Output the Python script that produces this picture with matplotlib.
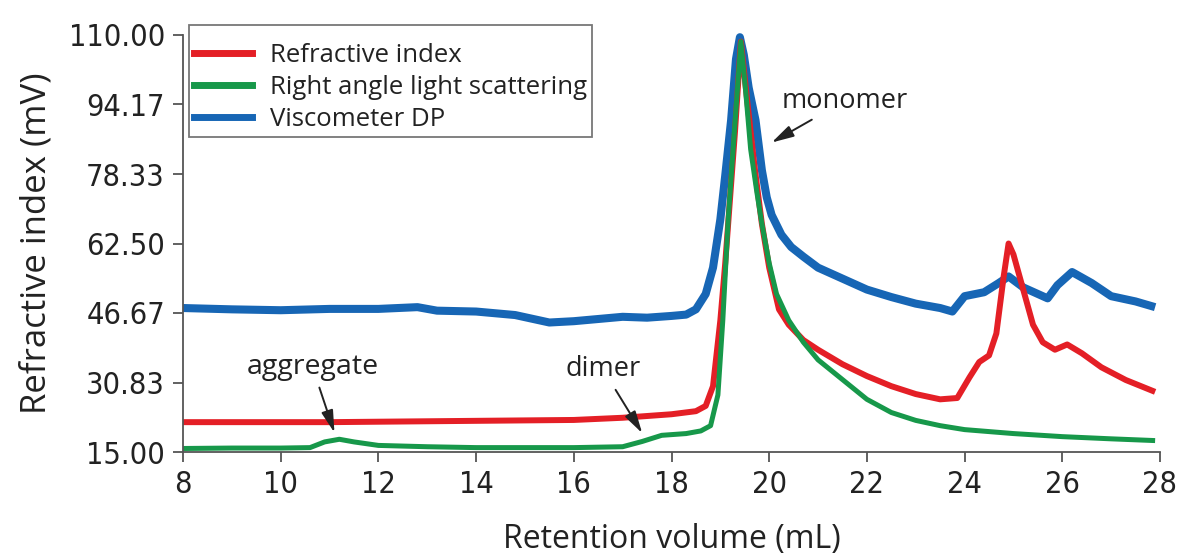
import numpy as np
import matplotlib.pyplot as plt
from matplotlib.lines import Line2D

# Retention volume (mL) / signal (mV)
ri_x = [8.0, 9.0, 10.0, 11.0, 12.0, 13.0, 14.0, 15.0, 16.0, 17.0, 17.5, 18.0, 18.5, 18.7,
        18.85, 19.0, 19.1, 19.2, 19.3, 19.42, 19.55, 19.7, 19.85, 20.0, 20.2, 20.4, 20.7,
        21.0, 21.5, 22.0, 22.5, 23.0, 23.5, 23.85, 24.1, 24.3, 24.5, 24.65, 24.8, 24.9,
        25.0, 25.2, 25.4, 25.6, 25.85, 26.1, 26.4, 26.8, 27.3, 27.9]
ri_y = [21.8, 21.8, 21.8, 21.8, 21.9, 22.0, 22.1, 22.2, 22.3, 22.8, 23.2, 23.6, 24.3, 25.5,
        30.0, 45.0, 58.0, 73.0, 88.0, 108.5, 95.0, 80.0, 67.0, 57.0, 47.5, 44.0, 40.5,
        38.3, 35.0, 32.3, 30.0, 28.2, 27.0, 27.3, 32.0, 35.5, 37.0, 42.0, 55.0, 62.5,
        60.0, 52.0, 44.0, 40.0, 38.3, 39.5, 37.5, 34.3, 31.4, 28.7]

ls_x = [8.0, 9.0, 10.0, 10.6, 10.9, 11.2, 11.5, 12.0, 13.0, 14.0, 15.0, 16.0, 17.0, 17.4,
        17.8, 18.3, 18.6, 18.8, 18.95, 19.05, 19.16, 19.3, 19.42, 19.52, 19.62, 19.75,
        19.85, 20.0, 20.15, 20.4, 20.7, 21.0, 21.5, 22.0, 22.5, 23.0, 23.5, 24.0, 25.0,
        26.0, 27.0, 27.9]
ls_y = [15.8, 15.9, 15.9, 16.0, 17.3, 17.9, 17.3, 16.5, 16.2, 16.0, 16.0, 16.0, 16.2, 17.4,
        18.8, 19.2, 19.8, 21.0, 28.0, 45.0, 68.0, 90.0, 108.5, 97.0, 84.0, 74.0,
        67.0, 58.0, 51.0, 45.0, 40.0, 36.0, 31.5, 27.0, 24.0, 22.2, 21.0, 20.1, 19.2,
        18.5, 18.0, 17.6]

dp_x = [8.0, 9.0, 10.0, 11.0, 12.0, 12.8, 13.2, 14.0, 14.8, 15.5, 16.0, 16.5, 17.0, 17.5,
        18.0, 18.3, 18.5, 18.7, 18.85, 19.0, 19.1, 19.22, 19.32, 19.4, 19.48, 19.58, 19.72,
        19.85, 19.95, 20.05, 20.25, 20.45, 20.7, 21.0, 21.5, 22.0, 22.5, 23.0, 23.5, 23.75,
        24.0, 24.4, 24.7, 24.9, 25.2, 25.5, 25.7, 25.9, 26.2, 26.6, 27.0, 27.5, 27.9]
dp_y = [47.8, 47.5, 47.3, 47.6, 47.6, 48.0, 47.2, 47.0, 46.2, 44.5, 44.8, 45.3, 45.8, 45.6,
        46.0, 46.3, 47.5, 51.0, 57.0, 68.0, 78.0, 90.6, 104.5, 109.5, 105.5, 98.0, 90.6,
        79.2, 73.0, 69.0, 64.5, 61.7, 59.5, 57.0, 54.5, 52.0, 50.3, 48.8, 47.8, 47.0,
        50.5, 51.4, 53.5, 55.0, 52.5, 51.0, 50.0, 53.0, 56.0, 53.5, 50.5, 49.3, 48.0]

series_names = ['Refractive index', 'Right angle light scattering', 'Viscometer DP']
colors = ['#e41f26', '#17984a', '#1766b5']

x_ticks = [8, 10, 12, 14, 16, 18, 20, 22, 24, 26, 28]
y_ticks = [15.00, 30.83, 46.67, 62.50, 78.33, 94.17, 110.00]

text_font = ['Open Sans', 'DejaVu Sans']
plt.rcParams['font.family'] = text_font
dark = '#222222'

fig = plt.figure(figsize=(11.83, 5.57), dpi=100)
ax = fig.add_axes([183/1183, 1-452/557, 977/1183, 417/557])

# viscometer under the other two
ax.plot(dp_x, dp_y, color=colors[2], lw=5.8, solid_capstyle='butt', clip_on=False)
ax.plot(ri_x, ri_y, color=colors[0], lw=4.3, solid_capstyle='butt', clip_on=False)
ax.plot(ls_x, ls_y, color=colors[1], lw=3.6, solid_capstyle='butt', clip_on=False)

ax.set_xlim(8, 28)
ax.set_ylim(15, 110)
ax.set_xticks(x_ticks)
ax.set_yticks(y_ticks)
ax.set_yticklabels(['%.2f' % v for v in y_ticks])
ax.tick_params(colors=dark, length=7, width=1.3, color='#555555')
ax.tick_params(axis='x', pad=6)
ax.tick_params(axis='y', pad=6)
for lab in ax.get_xticklabels() + ax.get_yticklabels():
    lab.set_fontfamily(['DejaVu Sans'])
    lab.set_fontstretch('condensed')
    lab.set_fontsize(22)
for s in ['top', 'right']:
    ax.spines[s].set_visible(False)
for s in ['left', 'bottom']:
    ax.spines[s].set_color('#555555')
    ax.spines[s].set_linewidth(1.3)

ax.set_xlabel('Retention volume (mL)', fontsize=23, color=dark, labelpad=17)
ax.set_ylabel('Refractive index (mV)', fontsize=25, color=dark, labelpad=11)

# legend (blank small title gives the extra room above the first row)
handles = [Line2D([], [], color=c, lw=5) for c in colors]
leg = ax.legend(handles, series_names, loc='upper left', bbox_to_anchor=(0.006, 1.025),
                prop={'family': text_font, 'size': 18.5}, frameon=True, fancybox=False,
                title=' ', title_fontsize=6,
                handlelength=2.25, handletextpad=0.7, borderpad=0.2, labelspacing=0.26,
                borderaxespad=0)
leg.get_frame().set_edgecolor('#555555')
leg.get_frame().set_linewidth(1.3)
for t in leg.get_texts():
    t.set_color(dark)

arrow = dict(arrowstyle='-|>,head_length=0.75,head_width=0.2', color=dark, lw=1.4,
             mutation_scale=18, shrinkA=3, shrinkB=0)
ax.annotate('aggregate', xy=(11.1, 19.4), xytext=(10.65, 34.4), ha='center', va='center',
            fontsize=20.5, color=dark, arrowprops=arrow)
ax.annotate('dimer', xy=(17.4, 19.3), xytext=(16.6, 33.8), ha='center', va='center',
            fontsize=19.5, color=dark, arrowprops=arrow)
ax.annotate('monomer', xy=(20.05, 85.5), xytext=(21.55, 95.0), ha='center', va='center',
            fontsize=19.5, color=dark, arrowprops=arrow)

fig.savefig('out.png', dpi=100)
